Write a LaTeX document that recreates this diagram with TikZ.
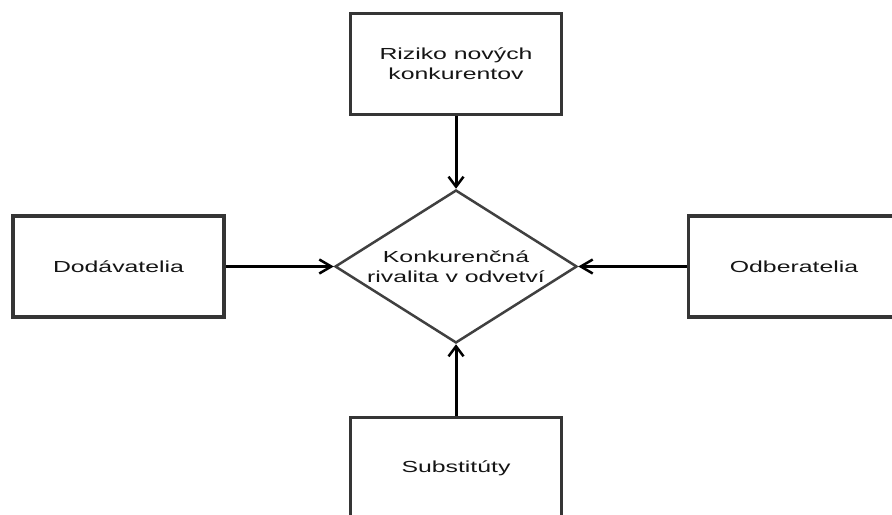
\documentclass[tikz,border=0pt]{standalone}
\usepackage{fontspec}
\setmainfont[FakeStretch=1.55]{Liberation Sans}
\usetikzlibrary{shapes.geometric,arrows.meta}
\definecolor{boxline}{HTML}{353535}
\definecolor{dialine}{HTML}{404040}
\definecolor{txt}{HTML}{151515}
\tikzset{
  force/.style={rectangle, draw=boxline, line width=3.5bp, fill=white,
    minimum width=211bp, minimum height=101bp, align=center,
    text=txt, font=\fontsize{16bp}{20bp}\selectfont},
  rival/.style={diamond, draw=dialine, line width=2.5bp, fill=white, aspect=1.6,
    inner sep=0pt, minimum width=242bp, minimum height=153bp, align=center,
    text=txt, font=\fontsize{16bp}{20bp}\selectfont},
  flow/.style={draw=black, line width=3bp,
    -{Straight Barb[length=10bp, width=15bp, line width=2.5bp]}},
  sideflow/.style={flow, line width=2.2bp,
    -{Straight Barb[length=12bp, width=14bp, line width=2.5bp]}}
}
\begin{document}
\begin{tikzpicture}[x=1bp, y=-1bp]
  \useasboundingbox (0,0) rectangle (892,515);
  \clip (0,0) rectangle (892,515);
  \fill[white] (0,0) rectangle (892,515);

  % the four forces around the industry
  \node[force] (entrants)  at (456,64)      {Riziko nových\\konkurentov};
  \node[force] (suppliers) at (118.5,266.5) {Dodávatelia};
  \node[force] (buyers)    at (794,266.5)   {Odberatelia};
  \node[force] (subst)     at (456,468)     {Substitúty};

  % rivalry in the middle
  \node[rival] (rivalry) at (456,266.5) {Konkurenčná\\rivalita v odvetví};

  % pressures pointing at the rivalry
  \draw[flow] (entrants.south) -- (rivalry.north);
  \draw[flow] (subst.north) -- (rivalry.south);
  \draw[sideflow] (suppliers.east) -- (rivalry.west);
  \draw[sideflow] (buyers.west) -- (rivalry.east);
\end{tikzpicture}
\end{document}
